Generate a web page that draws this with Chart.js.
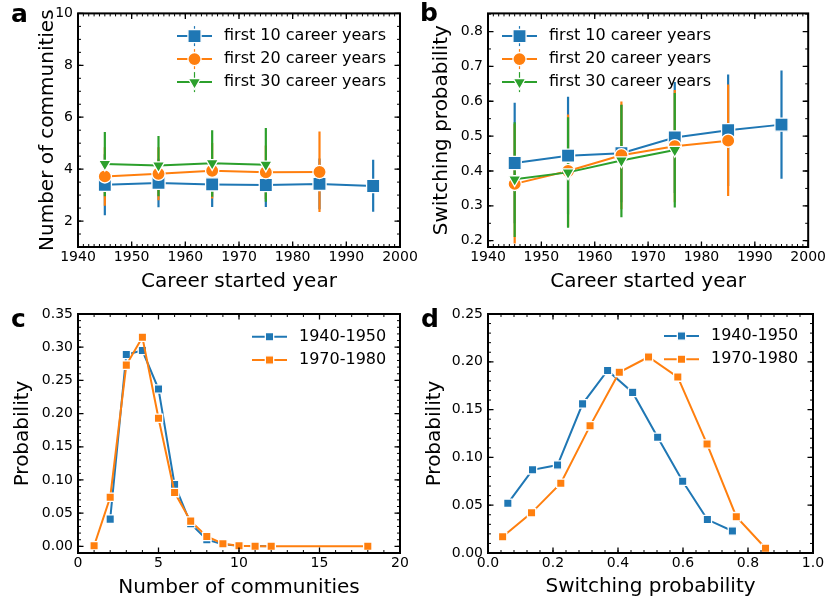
<!DOCTYPE html>
<html>
<head>
<meta charset="utf-8">
<script src="https://cdn.jsdelivr.net/npm/chart.js@4.4.1/dist/chart.umd.min.js"></script>
<style>
  body { margin: 0; background: #fff; overflow: hidden; }
  #wrap { position: relative; width: 828px; height: 603px; overflow: hidden; }
  canvas { position: absolute; left: 0; top: 0; }
</style>
</head>
<body>
<div id="wrap">
  <canvas id="chartA" width="828" height="603"></canvas>
  <canvas id="chartB" width="828" height="603"></canvas>
  <canvas id="chartC" width="828" height="603"></canvas>
  <canvas id="chartD" width="828" height="603"></canvas>
</div>
<script>
// ---- panel a: number of communities vs career start year
var yearsA10 = [1945, 1955, 1965, 1975, 1985, 1995];
var commA10 = [3.40, 3.47, 3.41, 3.39, 3.43, 3.35];
var commA10Low = [2.22, 2.53, 2.54, 2.54, 2.45, 2.36];
var commA10High = [4.57, 4.40, 4.28, 4.24, 4.41, 4.36];
var yearsA20 = [1945, 1955, 1965, 1975, 1985];
var commA20 = [3.72, 3.82, 3.94, 3.88, 3.89];
var commA20Low = [2.59, 2.80, 2.87, 2.85, 2.35];
var commA20High = [4.84, 4.84, 5.01, 4.91, 5.45];
var yearsA30 = [1945, 1955, 1965, 1975];
var commA30 = [4.20, 4.14, 4.23, 4.17];
var commA30Low = [2.96, 2.96, 2.94, 2.74];
var commA30High = [5.43, 5.28, 5.50, 5.58];

// ---- panel b: switching probability vs career start year
var switchB10 = [0.423, 0.444, 0.451, 0.496, 0.517, 0.533];
var switchB10Low = [0.25, 0.275, 0.31, 0.337, 0.357, 0.378];
var switchB10High = [0.596, 0.613, 0.59, 0.655, 0.677, 0.688];
var switchB20 = [0.363, 0.400, 0.445, 0.471, 0.487];
var switchB20Low = [0.192, 0.24, 0.29, 0.31, 0.328];
var switchB20High = [0.535, 0.562, 0.599, 0.632, 0.648];
var switchB30 = [0.376, 0.396, 0.430, 0.460];
var switchB30Low = [0.211, 0.237, 0.267, 0.295];
var switchB30High = [0.540, 0.554, 0.590, 0.624];

var seriesNames = ["first 10 career years", "first 20 career years", "first 30 career years"];
var yearTicks = [1940, 1950, 1960, 1970, 1980, 1990, 2000];
var commTicks = [2, 4, 6, 8, 10];
var switchTicks = [0.2, 0.3, 0.4, 0.5, 0.6, 0.7, 0.8];

// ---- panel c: distribution of number of communities
var periods = ["1940-1950", "1970-1980"];
var commC1 = [2, 3, 4, 5, 6, 7, 8, 9, 10, 11, 12];
var probC1 = [0.041, 0.289, 0.295, 0.237, 0.093, 0.034, 0.010, 0.003, 0.001, 0.0004, 0.0002];
var commC2 = [1, 2, 3, 4, 5, 6, 7, 8, 9, 10, 11, 12, 18];
var probC2 = [0.001, 0.074, 0.273, 0.315, 0.193, 0.081, 0.038, 0.015, 0.004, 0.001, 0.0003, 0.0003, 0.0002];
var commCTicks = [0, 5, 10, 15, 20];
var probCTicks = [0, 0.05, 0.10, 0.15, 0.20, 0.25, 0.30, 0.35];

// ---- panel d: distribution of switching probability
var switchD1 = [0.061, 0.137, 0.214, 0.291, 0.368, 0.445, 0.522, 0.599, 0.675, 0.752];
var probD1 = [0.052, 0.087, 0.092, 0.156, 0.191, 0.168, 0.121, 0.075, 0.035, 0.023];
var switchD2 = [0.045, 0.134, 0.224, 0.314, 0.404, 0.494, 0.584, 0.674, 0.764, 0.854];
var probD2 = [0.017, 0.042, 0.073, 0.133, 0.189, 0.205, 0.184, 0.114, 0.038, 0.005];
var switchDTicks = [0, 0.2, 0.4, 0.6, 0.8, 1.0];
var probDTicks = [0, 0.05, 0.10, 0.15, 0.20, 0.25];

var BLUE = "#1f77b4", ORANGE = "#ff7f0e", GREEN = "#2ca02c";
var FONT = "'DejaVu Sans', sans-serif";

function pts(xs, ys) {
  return xs.map(function (x, i) { return { x: x, y: ys[i] }; });
}

// vertical error bars, drawn under the lines and markers
var errorBars = {
  id: "errorBars",
  beforeDatasetsDraw: function (chart) {
    var ctx = chart.ctx, area = chart.chartArea, xs = chart.scales.x, ys = chart.scales.y;
    ctx.save();
    ctx.beginPath();
    ctx.rect(area.left, area.top, area.width, area.height);
    ctx.clip();
    chart.data.datasets.forEach(function (ds) {
      if (!ds.errLow) return;
      ctx.strokeStyle = ds.borderColor;
      ctx.lineWidth = 2.2;
      ds.data.forEach(function (p, i) {
        var px = xs.getPixelForValue(p.x);
        ctx.beginPath();
        ctx.moveTo(px, ys.getPixelForValue(ds.errLow[i]));
        ctx.lineTo(px, ys.getPixelForValue(ds.errHigh[i]));
        ctx.stroke();
      });
    });
    ctx.restore();
  }
};

// matplotlib-like box: inward ticks on all sides, panel letter and legend
var mplFrame = {
  id: "mplFrame",
  afterDraw: function (chart, args, opts) {
    var ctx = chart.ctx, a = chart.chartArea, xs = chart.scales.x, ys = chart.scales.y;
    ctx.save();
    ctx.strokeStyle = "#000";

    function steps(min, max, step) {
      var out = [], v = Math.ceil(min / step - 1e-6) * step;
      for (; v <= max + 1e-9; v += step) out.push(v);
      return out;
    }
    function xTicks(vals, len, w) {
      ctx.lineWidth = w;
      ctx.beginPath();
      vals.forEach(function (v) {
        var p = xs.getPixelForValue(v);
        ctx.moveTo(p, a.bottom); ctx.lineTo(p, a.bottom - len);
        ctx.moveTo(p, a.top); ctx.lineTo(p, a.top + len);
      });
      ctx.stroke();
    }
    function yTicks(vals, len, w) {
      ctx.lineWidth = w;
      ctx.beginPath();
      vals.forEach(function (v) {
        var p = ys.getPixelForValue(v);
        ctx.moveTo(a.left, p); ctx.lineTo(a.left + len, p);
        ctx.moveTo(a.right, p); ctx.lineTo(a.right - len, p);
      });
      ctx.stroke();
    }
    xTicks(steps(xs.min, xs.max, opts.xMinor), 3, 1);
    yTicks(steps(ys.min, ys.max, opts.yMinor), 3, 1);
    xTicks(xs.ticks.map(function (t) { return t.value; }), 5.5, 1.3);
    yTicks(ys.ticks.map(function (t) { return t.value; }), 5.5, 1.3);

    ctx.lineWidth = 2;
    ctx.strokeRect(a.left, a.top, a.width, a.height);

    // panel letter
    ctx.fillStyle = "#000";
    ctx.font = "bold 25px " + FONT;
    ctx.textBaseline = "alphabetic";
    ctx.fillText(opts.letter, opts.letterX, opts.letterY);

    // legend
    var lx = a.left + opts.legendX, ly = a.top + opts.legendY;
    chart.data.datasets.forEach(function (ds, i) {
      var y = ly + i * opts.legendGap;
      ctx.strokeStyle = ds.borderColor;
      ctx.lineWidth = ds.borderWidth;
      ctx.beginPath();
      ctx.moveTo(lx, y); ctx.lineTo(lx + 35, y);
      ctx.stroke();
      var mx = lx + 17.5;
      if (ds.errLow) {
        ctx.lineWidth = 1.2;
        ctx.beginPath();
        ctx.moveTo(mx, y - 10); ctx.lineTo(mx, y + 10);
        ctx.stroke();
      }
      ctx.fillStyle = ds.pointBackgroundColor;
      ctx.strokeStyle = ds.pointBorderColor;
      ctx.lineWidth = ds.pointBorderWidth;
      Chart.helpers.drawPoint(ctx, {
        pointStyle: ds.pointStyle, radius: ds.pointRadius,
        rotation: ds.pointRotation || 0, borderWidth: ds.pointBorderWidth
      }, mx, y);
      ctx.fillStyle = "#000";
      ctx.font = "16px " + FONT;
      ctx.textBaseline = "middle";
      ctx.textAlign = "left";
      ctx.fillText(ds.label, lx + 47, y);
    });
    ctx.restore();
  }
};

function series(label, color, data, style, radius, order, low, high) {
  return {
    label: label,
    data: data,
    borderColor: color,
    backgroundColor: color,
    borderWidth: 2,
    tension: 0,
    pointStyle: style,
    pointRadius: radius,
    pointRotation: style === "triangle" ? 180 : 0,
    pointBackgroundColor: color,
    pointBorderColor: "#fff",
    pointBorderWidth: 1.3,
    order: order,
    errLow: low,
    errHigh: high
  };
}

function makeChart(id, datasets, cfg) {
  var tickFont = { family: FONT, size: 14 };
  var titleFont = { family: FONT, size: 20 };
  return new Chart(document.getElementById(id), {
    type: "line",
    data: { datasets: datasets },
    options: {
      responsive: false,
      animation: false,
      events: [],
      devicePixelRatio: 1,
      layout: { padding: cfg.padding },
      plugins: {
        legend: { display: false },
        tooltip: { enabled: false },
        mplFrame: cfg.frame
      },
      scales: {
        x: {
          type: "linear",
          min: cfg.xMin, max: cfg.xMax,
          grid: { display: false, drawTicks: false },
          border: { display: false },
          ticks: {
            color: "#000", font: tickFont, padding: 2,
            autoSkip: false, maxRotation: 0, minRotation: 0,
            callback: cfg.xFmt
          },
          afterBuildTicks: function (s) { s.ticks = cfg.xTicks.map(function (v) { return { value: v }; }); },
          afterFit: function (s) { s.height = cfg.xHeight; },
          title: { display: true, text: cfg.xTitle, color: "#000", font: titleFont, padding: { top: 0, bottom: cfg.xTitlePad } }
        },
        y: {
          min: cfg.yMin, max: cfg.yMax,
          grid: { display: false, drawTicks: false },
          border: { display: false },
          ticks: { color: "#000", font: tickFont, padding: 5, autoSkip: false, callback: cfg.yFmt },
          afterBuildTicks: function (s) { s.ticks = cfg.yTicks.map(function (v) { return { value: v }; }); },
          afterFit: function (s) { s.width = cfg.yWidth; },
          title: { display: true, text: cfg.yTitle, color: "#000", font: titleFont, padding: { top: cfg.yTitlePad, bottom: 0 } }
        }
      }
    },
    plugins: [errorBars, mplFrame]
  });
}

function fixed(n) { return function (v) { return Number(v).toFixed(n); }; }

// panel a
makeChart("chartA", [
  series(seriesNames[0], BLUE, pts(yearsA10, commA10), "rect", 9.3, 2, commA10Low, commA10High),
  series(seriesNames[1], ORANGE, pts(yearsA20, commA20), "circle", 6.6, 1, commA20Low, commA20High),
  series(seriesNames[2], GREEN, pts(yearsA30, commA30), "triangle", 7.2, 0, commA30Low, commA30High)
], {
  padding: { left: 0, top: 8, right: 428, bottom: 303 },
  xMin: 1940, xMax: 2000, yMin: 1, yMax: 10,
  xTicks: yearTicks, yTicks: commTicks,
  xFmt: fixed(0), yFmt: fixed(0),
  xHeight: 53, yWidth: 78, xTitlePad: 6, yTitlePad: 36,
  xTitle: "Career started year", yTitle: "Number of communities",
  frame: { xMinor: 1, yMinor: 0.5, letter: "a", letterX: 11, letterY: 21.5,
           legendX: 99, legendY: 22.7, legendGap: 23 }
});

// panel b
makeChart("chartB", [
  series(seriesNames[0], BLUE, pts(yearsA10, switchB10), "rect", 9.3, 2, switchB10Low, switchB10High),
  series(seriesNames[1], ORANGE, pts(yearsA20, switchB20), "circle", 6.6, 1, switchB20Low, switchB20High),
  series(seriesNames[2], GREEN, pts(yearsA30, switchB30), "triangle", 7.2, 0, switchB30Low, switchB30High)
], {
  padding: { left: 414, top: 8, right: 16, bottom: 303 },
  xMin: 1940, xMax: 2000, yMin: 0.182, yMax: 0.852,
  xTicks: yearTicks, yTicks: switchTicks,
  xFmt: fixed(0), yFmt: fixed(1),
  xHeight: 53, yWidth: 74, xTitlePad: 6, yTitlePad: 16,
  xTitle: "Career started year", yTitle: "Switching probability",
  frame: { xMinor: 1, yMinor: 0.05, letter: "b", letterX: 420, letterY: 21,
           legendX: 14, legendY: 22.7, legendGap: 23 }
});

// panel c
makeChart("chartC", [
  series(periods[0], BLUE, pts(commC1, probC1), "rect", 5.9, 1),
  series(periods[1], ORANGE, pts(commC2, probC2), "rect", 5.9, 0)
], {
  padding: { left: 0, top: 314, right: 428, bottom: 0 },
  xMin: 0, xMax: 20, yMin: -0.01, yMax: 0.35,
  xTicks: commCTicks, yTicks: probCTicks,
  xFmt: fixed(0), yFmt: fixed(2),
  xHeight: 50, yWidth: 78, xTitlePad: 3, yTitlePad: 11,
  xTitle: "Number of communities", yTitle: "Probability",
  frame: { xMinor: 1, yMinor: 0.01, letter: "c", letterX: 11, letterY: 327,
           legendX: 174, legendY: 22.7, legendGap: 23.3 }
});

// panel d
makeChart("chartD", [
  series(periods[0], BLUE, pts(switchD1, probD1), "rect", 5.9, 1),
  series(periods[1], ORANGE, pts(switchD2, probD2), "rect", 5.9, 0)
], {
  padding: { left: 414, top: 314, right: 15, bottom: 0 },
  xMin: 0, xMax: 1, yMin: 0, yMax: 0.25,
  xTicks: switchDTicks, yTicks: probDTicks,
  xFmt: fixed(1), yFmt: fixed(2),
  xHeight: 50, yWidth: 74, xTitlePad: 4, yTitlePad: 9,
  xTitle: "Switching probability", yTitle: "Probability",
  frame: { xMinor: 0.04, yMinor: 0.01, letter: "d", letterX: 421, letterY: 327,
           legendX: 176, legendY: 22, legendGap: 23.3 }
});
</script>
</body>
</html>
